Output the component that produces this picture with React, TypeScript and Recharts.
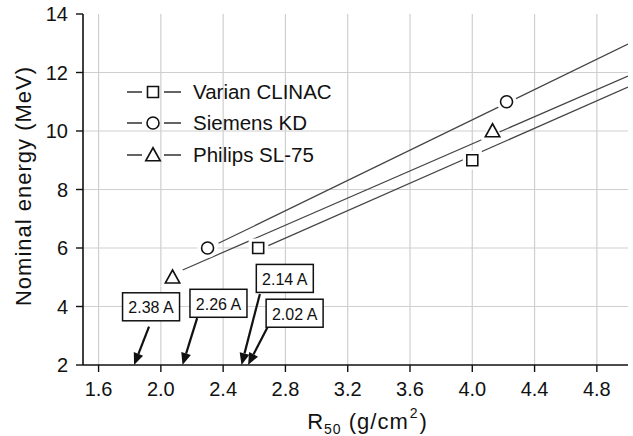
import {
  ComposedChart,
  Line,
  Scatter,
  XAxis,
  YAxis,
  CartesianGrid,
  Legend,
  ReferenceDot,
  ReferenceLine,
} from 'recharts'

const FONT = '"Liberation Sans", Arial, Helvetica, sans-serif'

// measured points
const seriesNames = ['Varian CLINAC', 'Siemens KD', 'Philips SL-75']
const seriesShapes = ['square', 'circle', 'triangle']
const varianR50 = [2.625, 4.0]
const varianEnergy = [6, 9]
const siemensR50 = [2.3, 4.22]
const siemensEnergy = [6, 11]
const philipsR50 = [2.075, 4.13]
const philipsEnergy = [5, 10]

// fitted lines (start, end)
const varianFitR50 = [2.69, 5.0]
const varianFitEnergy = [6.08, 11.5]
const siemensFitR50 = [2.37, 5.0]
const siemensFitEnergy = [6.16, 12.97]
const philipsFitR50 = [2.14, 5.0]
const philipsFitEnergy = [5.25, 11.88]

// annotations
const annoLabels = ['2.38 A', '2.26 A', '2.14 A', '2.02 A']
const annoBoxR50 = [1.937, 2.37, 2.796, 2.859]
const annoBoxEnergy = [3.99, 4.11, 4.96, 3.77]
const arrowFromR50 = [1.924, 2.233, 2.636, 2.685]
const arrowFromEnergy = [3.31, 3.6, 4.43, 3.29]
const arrowToR50 = [1.828, 2.139, 2.518, 2.56]
const arrowToEnergy = [2, 2, 2, 2]

const xTicks = [1.6, 2.0, 2.4, 2.8, 3.2, 3.6, 4.0, 4.4, 4.8]
const yTicks = [2, 4, 6, 8, 10, 12, 14]
const yGrid = [4, 6, 8, 10, 12]

const toPoints = (xs: number[], ys: number[]) => xs.map((x, i) => ({ x, y: ys[i] }))

const points = [
  toPoints(varianR50, varianEnergy),
  toPoints(siemensR50, siemensEnergy),
  toPoints(philipsR50, philipsEnergy),
]
const fits = [
  toPoints(varianFitR50, varianFitEnergy),
  toPoints(siemensFitR50, siemensFitEnergy),
  toPoints(philipsFitR50, philipsFitEnergy),
]

const markerSize: Record<string, number> = { square: 5.5, circle: 6, triangle: 6.3 }

function markerPath(kind: string, cx: number, cy: number, r: number) {
  if (kind === 'square') {
    return `M${cx - r},${cy - r}h${2 * r}v${2 * r}h${-2 * r}Z`
  }
  if (kind === 'triangle') {
    const h = r * 1.15
    return `M${cx},${cy - h}L${cx + h},${cy + h * 0.8}L${cx - h},${cy + h * 0.8}Z`
  }
  return `M${cx - r},${cy}a${r},${r} 0 1,0 ${2 * r},0a${r},${r} 0 1,0 ${-2 * r},0`
}

const makeMarker = (kind: string) => (props: any) => {
  const { cx, cy } = props
  if (cx == null || cy == null) return null
  const r = markerSize[kind]
  return (
    <g>
      <path d={markerPath(kind, cx, cy, r + 4)} fill="#fff" stroke="none" />
      <path d={markerPath(kind, cx, cy, r)} fill="#fff" stroke="#111" strokeWidth={1.6} />
    </g>
  )
}

const AnnoBox = (label: string) => (props: any) => {
  const { cx, cy } = props
  return (
    <g>
      <rect x={cx - 28.5} y={cy - 14} width={57} height={28} fill="#fff" stroke="#111" strokeWidth={1.5} />
      <text
        x={cx}
        y={cy + 1}
        textAnchor="middle"
        dominantBaseline="central"
        fontSize={16}
        fontFamily={FONT}
        fill="#111"
      >
        {label}
      </text>
    </g>
  )
}

const Arrow = (props: any) => {
  const { x1, y1, x2, y2 } = props
  if (x1 == null) return null
  const dx = x2 - x1
  const dy = y2 - y1
  const len = Math.sqrt(dx * dx + dy * dy)
  const ux = dx / len
  const uy = dy / len
  const hl = 12
  const hw = 5
  const bx = x2 - ux * hl
  const by = y2 - uy * hl
  return (
    <g>
      <line x1={x1} y1={y1} x2={bx} y2={by} stroke="#111" strokeWidth={2.2} />
      <path
        d={`M${x2},${y2}L${bx - uy * hw},${by + ux * hw}L${bx + uy * hw},${by - ux * hw}Z`}
        fill="#111"
      />
    </g>
  )
}

const LegendSymbol = ({ kind }: { kind: string }) => (
  <svg width={54} height={20} style={{ display: 'block' }}>
    <line x1={0} y1={10} x2={15} y2={10} stroke="#222" strokeWidth={1.4} />
    <line x1={37} y1={10} x2={54} y2={10} stroke="#222" strokeWidth={1.4} />
    <path d={markerPath(kind, 26, 10, markerSize[kind])} fill="#fff" stroke="#111" strokeWidth={1.6} />
  </svg>
)

const renderLegend = () => (
  <div style={{ fontFamily: FONT, fontSize: 20.5, color: '#111' }}>
    {seriesNames.map((name, i) => (
      <div key={name} style={{ display: 'flex', alignItems: 'center', height: 31.6 }}>
        <LegendSymbol kind={seriesShapes[i]} />
        <span style={{ marginLeft: 12, lineHeight: '20px' }}>{name}</span>
      </div>
    ))}
  </div>
)

const renderXLabel = (props: any) => {
  const vb = props.viewBox
  const cx = vb.x + vb.width / 2 + 12
  return (
    <text x={cx} y={429} textAnchor="middle" fontFamily={FONT} fontSize={22} letterSpacing={1} fill="#111">
      <tspan>R</tspan>
      <tspan fontSize={14} dy={5}>50</tspan>
      <tspan dy={-5}> (g/cm</tspan>
      <tspan fontSize={14} dy={-11} dx={1}>2</tspan>
      <tspan dy={11} dx={1}>)</tspan>
    </text>
  )
}

const renderYLabel = () => (
  <text
    x={23}
    y={186}
    transform="rotate(-90, 23, 186)"
    textAnchor="middle"
    dominantBaseline="central"
    fontFamily={FONT}
    fontSize={22}
    letterSpacing={1}
    fill="#111"
  >
    Nominal energy (MeV)
  </text>
)

export default function App() {
  return (
    <div style={{ position: 'absolute', left: 0, top: 0, width: 633, height: 436, background: '#fff' }}>
      <ComposedChart width={633} height={436} margin={{ top: 14, right: 5, left: 0, bottom: 0 }}>
        <CartesianGrid
          stroke="#cfcfcf"
          strokeWidth={1.2}
          horizontalValues={yGrid}
          verticalValues={xTicks}
        />
        <XAxis
          type="number"
          dataKey="x"
          domain={[1.5, 5.0]}
          ticks={xTicks}
          allowDataOverflow
          tickFormatter={(v: number) => v.toFixed(1)}
          height={71}
          tickSize={7}
          tickMargin={10}
          axisLine={{ stroke: '#111', strokeWidth: 1.6 }}
          tickLine={{ stroke: '#111', strokeWidth: 1.4 }}
          tick={{ fill: '#111', fontSize: 20, fontFamily: FONT }}
          label={renderXLabel}
        />
        <YAxis
          type="number"
          dataKey="y"
          domain={[2, 14]}
          ticks={yTicks}
          allowDataOverflow
          width={83}
          tickSize={7}
          tickMargin={8}
          axisLine={{ stroke: '#111', strokeWidth: 1.6 }}
          tickLine={{ stroke: '#111', strokeWidth: 1.4 }}
          tick={{ fill: '#111', fontSize: 20, fontFamily: FONT }}
          label={renderYLabel}
        />
        {fits.map((d, i) => (
          <Line
            key={`fit-${i}`}
            data={d}
            dataKey="y"
            type="linear"
            stroke="#444"
            strokeWidth={1.2}
            dot={false}
            activeDot={false}
            legendType="none"
            isAnimationActive={false}
          />
        ))}
        {points.map((d, i) => (
          <Scatter
            key={`pts-${i}`}
            name={seriesNames[i]}
            data={d}
            dataKey="y"
            shape={makeMarker(seriesShapes[i])}
            isAnimationActive={false}
          />
        ))}
        {annoLabels.map((label, i) => (
          <ReferenceLine
            key={`arrow-${i}`}
            segment={[
              { x: arrowFromR50[i], y: arrowFromEnergy[i] },
              { x: arrowToR50[i], y: arrowToEnergy[i] },
            ]}
            shape={Arrow}
            ifOverflow="visible"
          />
        ))}
        {annoLabels.map((label, i) => (
          <ReferenceDot
            key={`box-${i}`}
            x={annoBoxR50[i]}
            y={annoBoxEnergy[i]}
            shape={AnnoBox(label)}
            ifOverflow="visible"
          />
        ))}
        <Legend
          layout="vertical"
          align="center"
          verticalAlign="middle"
          content={renderLegend}
          wrapperStyle={{ left: 127, top: 76, width: 'auto', height: 'auto' }}
        />
      </ComposedChart>
    </div>
  )
}
